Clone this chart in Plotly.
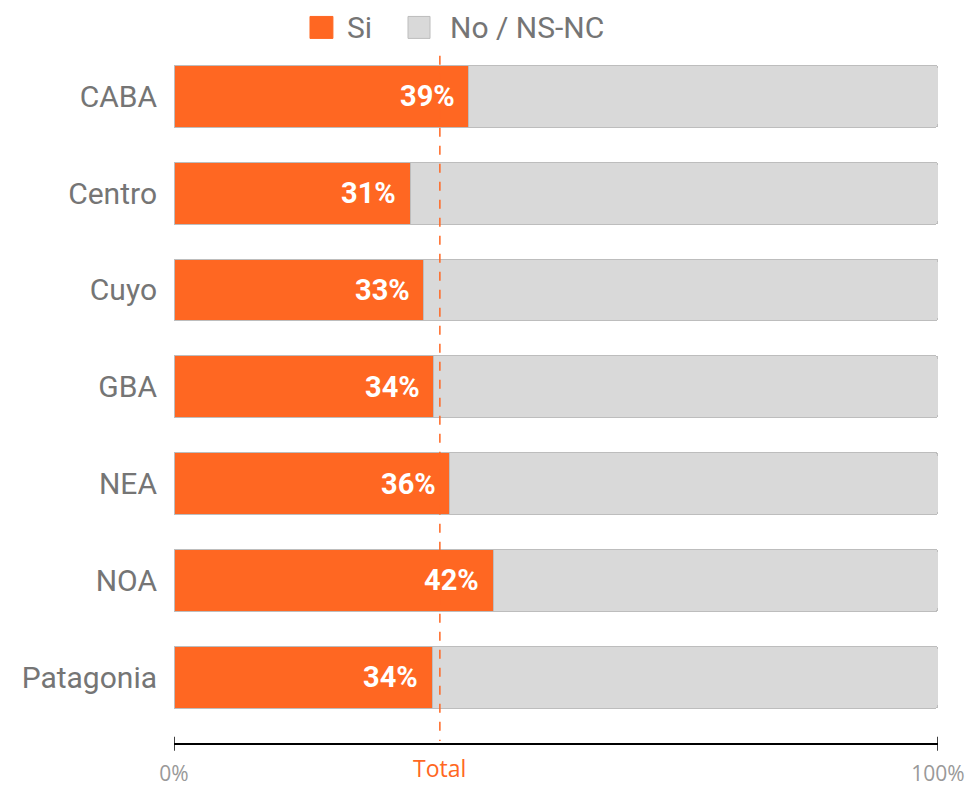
import plotly.graph_objects as go

regions = ["CABA", "Centro", "Cuyo", "GBA", "NEA", "NOA", "Patagonia"]
si_values = [38.6, 30.9, 32.7, 34.0, 36.1, 41.8, 33.8]
si_labels = ["39%", "31%", "33%", "34%", "36%", "42%", "34%"]
no_values = [100 - v for v in si_values]
total_value = 34.8
total_label = "Total"
tick_vals = [0, 100]
tick_text = ["0%", "100%"]
legend_names = ["Si", "No / NS-NC"]

ORANGE = "#FF6722"
GRAY = "#D9D9D9"
BORDER = "#BDBDBD"
TEXT = "#757575"

fig = go.Figure()
fig.add_trace(go.Bar(
    y=regions, x=si_values, orientation="h", name=legend_names[0],
    marker=dict(color=ORANGE, line=dict(color=BORDER, width=1)),
    showlegend=False, hoverinfo="x+y",
))
fig.add_trace(go.Bar(
    y=regions, x=no_values, orientation="h", name=legend_names[1],
    marker=dict(color=GRAY, line=dict(color=BORDER, width=1)),
    showlegend=False, hoverinfo="x+y",
))

for r, v, lab in zip(regions, si_values, si_labels):
    fig.add_annotation(x=v, y=r, text=lab, showarrow=False, xanchor="right",
                       xshift=-12, font=dict(family="Roboto", size=29, color="white", weight="bold"))

fig.add_shape(type="line", x0=total_value, x1=total_value, y0=-0.42, y1=6.66,
              xref="x", yref="y", line=dict(color=ORANGE, width=1.5, dash="dash"), layer="above")
fig.add_annotation(x=total_value, y=0, xref="x", yref="paper", text=total_label, showarrow=False,
                   xanchor="center", yanchor="top", yshift=-8, borderpad=0,
                   font=dict(family="Open Sans", size=23, color=ORANGE))
for xv in (0, 100):
    fig.add_shape(type="line", x0=xv, x1=xv, y0=-0.011, y1=0.009, xref="x", yref="paper",
                  line=dict(color="black", width=1.5))

# manual legend (paper coords)
leg = [(0.178, 0.208, 0.2238, ORANGE, legend_names[0]),
       (0.3063, 0.3351, 0.3586, GRAY, legend_names[1])]
for x0, x1, xt, col, name in leg:
    fig.add_shape(type="rect", x0=x0, x1=x1, y0=1.0138, y1=1.0454, xref="paper", yref="paper",
                  fillcolor=col, line=dict(color=BORDER if col == GRAY else col, width=1))
    fig.add_annotation(x=xt, y=1.0296, xref="paper", yref="paper", text=name, showarrow=False,
                       xanchor="left", yanchor="middle",
                       font=dict(family="Roboto", size=30, color=TEXT))

fig.update_layout(
    width=969, height=786,
    margin=dict(l=174, r=31, t=48, b=43),
    barmode="stack", bargap=0.36, barcornerradius=3,
    plot_bgcolor="white", paper_bgcolor="white",
    showlegend=False,
    xaxis=dict(range=[0, 100], tickvals=tick_vals, ticktext=tick_text, showgrid=False,
               zeroline=False, showline=True, linecolor="black", linewidth=2, ticks="",
               ticklabelstandoff=11, automargin=False,
               tickfont=dict(family="Open Sans", size=21, color="#999999")),
    yaxis=dict(categoryorder="array", categoryarray=regions, range=[6.68, -0.5],
               showgrid=False, zeroline=False, showline=False, ticks="",
               ticklabelstandoff=16, automargin=False,
               tickfont=dict(family="Roboto", size=30, color=TEXT)),
)
fig.write_html("out.html", config={"displayModeBar": False},
               post_script="document.body.style.margin='0px';")
